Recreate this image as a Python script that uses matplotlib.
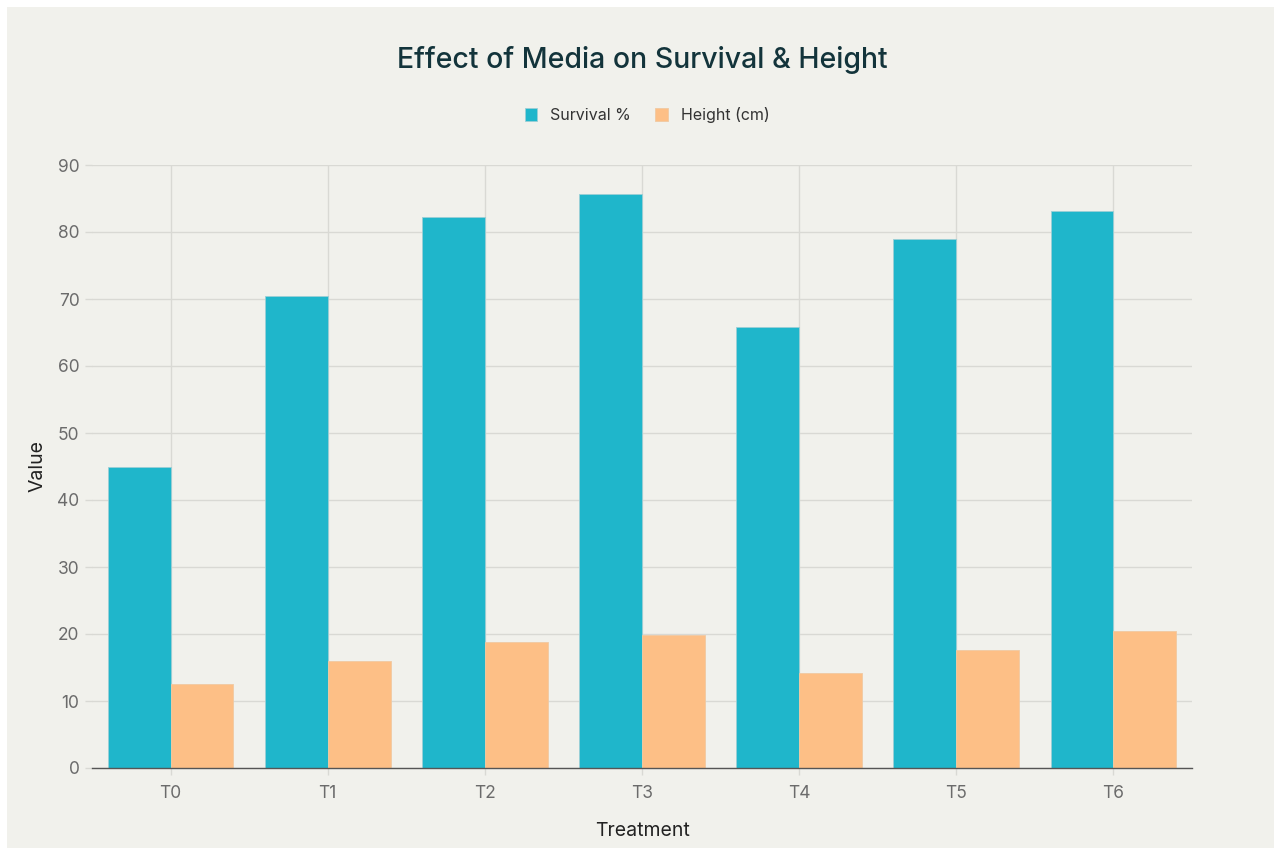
import matplotlib
matplotlib.use("Agg")
import matplotlib.pyplot as plt
from matplotlib.patches import Rectangle
import numpy as np

treatments = ["T0", "T1", "T2", "T3", "T4", "T5", "T6"]
survival_pct = [45.0, 70.5, 82.3, 85.7, 65.8, 78.9, 83.1]
height_cm = [12.5, 15.9, 18.8, 19.9, 14.2, 17.6, 20.5]
series_names = ["Survival %", "Height (cm)"]
y_ticks = [0, 10, 20, 30, 40, 50, 60, 70, 80, 90]

TEAL = "#1fb6cb"
ORANGE = "#fdbf86"
BG = "#f1f1ec"
TEXT_DARK = "#13343b"
TICK_GRAY = "#6b6b6b"
GRID = "#d9d9d4"

plt.rcParams["font.family"] = ["Inter", "DejaVu Sans"]

fig = plt.figure(figsize=(12.74, 8.48), dpi=100, facecolor="white")
# page panel behind the chart
fig.patches.append(Rectangle((7 / 1274, 0), 1 - 7 / 1274, 1 - 7 / 848,
                             transform=fig.transFigure, facecolor=BG,
                             edgecolor="none", zorder=-10))

ax = fig.add_axes([92 / 1274, 80 / 848, 1100 / 1274, 603 / 848])
ax.set_facecolor(BG)

x = np.arange(len(treatments))
w = 0.4
ax.bar(x - w / 2, survival_pct, width=w, color=TEAL, edgecolor="#9ccfd6",
       linewidth=0.6, label=series_names[0], zorder=3)
ax.bar(x + w / 2, height_cm, width=w, color=ORANGE, edgecolor="#f0c9a2",
       linewidth=0.6, label=series_names[1], zorder=3)

ax.set_xlim(-0.5, len(treatments) - 0.5)
ax.set_ylim(0, 90)
ax.set_yticks(y_ticks)
ax.set_xticks(x)
ax.set_xticklabels(treatments)

ax.grid(True, color=GRID, linewidth=1.0, zorder=0)
ax.set_axisbelow(True)
for side in ["top", "right", "left"]:
    ax.spines[side].set_visible(False)
ax.spines["bottom"].set_color("#555555")
ax.spines["bottom"].set_linewidth(1.0)
ax.spines["bottom"].set_zorder(4)

ax.tick_params(axis="y", colors=GRID, labelcolor=TICK_GRAY, labelsize=12.5,
               length=5, width=1, pad=4)
ax.tick_params(axis="x", colors=GRID, labelcolor=TICK_GRAY, labelsize=12.5,
               length=5, width=1, pad=7)

ax.set_ylabel("Value", fontsize=14, color="#222222", labelpad=8)
ax.set_xlabel("Treatment", fontsize=14, color="#222222", labelpad=15)

fig.text(642 / 1274, 1 - 60 / 848, "Effect of Media on Survival & Height",
         ha="center", va="center", fontsize=20.5, fontweight="medium",
         color=TEXT_DARK)

fig.legend(loc="center", bbox_to_anchor=(647 / 1274, 1 - 115 / 848), ncol=2,
           frameon=False, fontsize=11.5, handlelength=0.8, handleheight=0.8,
           handletextpad=0.8, columnspacing=1.5, labelcolor="#333333")

fig.savefig("out.png", dpi=100, facecolor="white")
